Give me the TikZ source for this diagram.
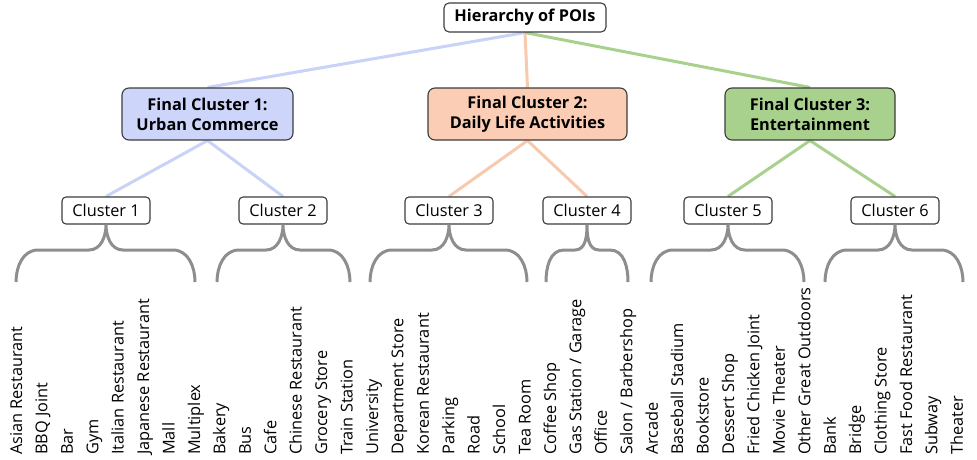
\documentclass[tikz,border=0pt]{standalone}
\usepackage{fontspec}
\setmainfont{Open Sans}
\usetikzlibrary{backgrounds}
\definecolor{boxborder}{HTML}{3C3C3C}
\definecolor{fcblue}{HTML}{CDD5FA}
\definecolor{lnblue}{HTML}{C9D2F7}
\definecolor{fcpeach}{HTML}{FBCDB4}
\definecolor{lnpeach}{HTML}{F7CAAF}
\definecolor{fcgreen}{HTML}{A9D18E}
\definecolor{lngreen}{HTML}{A9D18E}
\definecolor{bracegray}{HTML}{8E8E8E}
\newcommand\cbrace[6]{%
  \draw[bracestyle] (#2,282) to[out=90,in=180] ({#2+#5},250) -- ({#3-#6},250)
    to[out=0,in=270] (#1.south) to[out=270,in=180] ({#3+#6},250) -- ({#4-#5},250)
    to[out=0,in=90] (#4,282);}
\begin{document}
\begin{tikzpicture}[x=1pt,y=-1pt,
  box/.style={draw=boxborder, line width=1.1pt, rounded corners=5pt, align=center,
    inner sep=0pt, font=\fontsize{16.3pt}{20pt}\selectfont},
  topbox/.style={box, fill=white, minimum width=162pt, minimum height=29pt, font=\fontsize{16.3pt}{20pt}\selectfont\bfseries},
  finalbox/.style={box, minimum height=52pt, rounded corners=7pt, font=\fontsize{16.3pt}{20pt}\selectfont\bfseries},
  clbox/.style={box, fill=white, minimum width=88pt, minimum height=27pt, rounded corners=4pt},
  leaf/.style={rotate=90, anchor=base west, inner sep=0pt, font=\fontsize{16.3pt}{20pt}\selectfont},
  link/.style={line width=3pt},
  bracestyle/.style={draw=bracegray, line width=3pt}]
\useasboundingbox (0,0) rectangle (977,460);

\node[topbox] (top) at (525,17.5) {Hierarchy of POIs};

\node[finalbox, fill=fcblue, minimum width=171pt] (f1) at (207.5,114) {Final Cluster 1:\\Urban Commerce};
\node[finalbox, fill=fcpeach, minimum width=199pt] (f2) at (527.5,114) {Final Cluster 2:\\Daily Life Activities};
\node[finalbox, fill=fcgreen, minimum width=170pt] (f3) at (810,114) {Final Cluster 3:\\Entertainment};

\node[clbox] (c1) at (106,210.5) {Cluster 1};
\node[clbox] (c2) at (283,210.5) {Cluster 2};
\node[clbox] (c3) at (449,210.5) {Cluster 3};
\node[clbox] (c4) at (587,210.5) {Cluster 4};
\node[clbox] (c5) at (728,210.5) {Cluster 5};
\node[clbox] (c6) at (895,210.5) {Cluster 6};

\begin{scope}[on background layer]
\draw[link, lnblue] (top.south) -- (f1.north);
\draw[link, lnpeach] (top.south) -- (f2.north);
\draw[link, lngreen] (top.south) -- (f3.north);
\draw[link, lnblue] (f1.south) -- (c1.north);
\draw[link, lnblue] (f1.south) -- (c2.north);
\draw[link, lnpeach] (f2.south) -- (c3.north);
\draw[link, lnpeach] (f2.south) -- (c4.north);
\draw[link, lngreen] (f3.south) -- (c5.north);
\draw[link, lngreen] (f3.south) -- (c6.north);
\end{scope}

\foreach \t [count=\i from 0] in {Asian Restaurant, BBQ Joint, Bar, Gym, Italian Restaurant,
  Japanese Restaurant, Mall, Multiplex, Bakery, Bus, Cafe, Chinese Restaurant, Grocery Store,
  Train Station, University, Department Store, Korean Restaurant, Parking, Road, School,
  Tea Room, Coffee Shop, Gas Station / Garage, Office, Salon / Barbershop, Arcade,
  Baseball Stadium, Bookstore, Dessert Shop, Fried Chicken Joint, Movie Theater,
  Other Great Outdoors, Bank, Bridge, Clothing Store, Fast Food Restaurant, Subway, Theater}
  \node[leaf] (l\i) at ({22+25.43*\i},455) {\t};

\cbrace{c1}{16}{106}{195}{22}{17}
\cbrace{c2}{217}{283}{350}{22}{17}
\cbrace{c3}{370}{449}{527}{22}{17}
\cbrace{c4}{546}{587}{628}{18}{12}
\cbrace{c5}{651}{728}{804}{22}{17}
\cbrace{c6}{825}{895}{963}{22}{17}
\end{tikzpicture}
\end{document}
